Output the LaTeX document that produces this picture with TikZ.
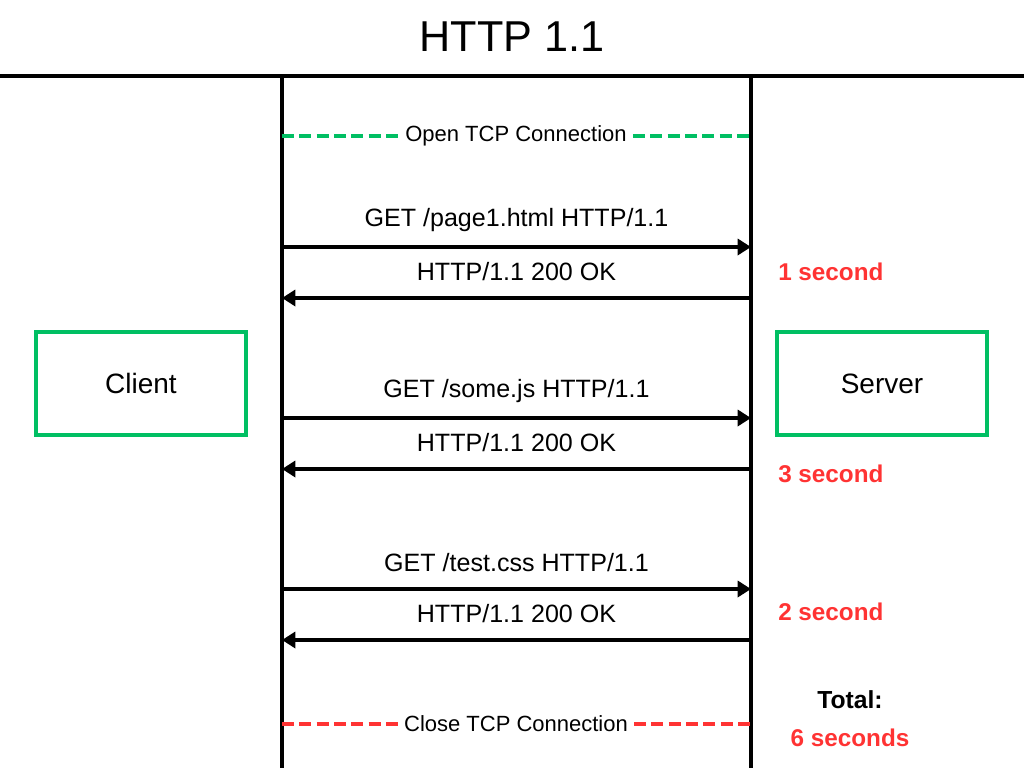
\documentclass[tikz,border=0pt]{standalone}
\usepackage{fontspec}
\setmainfont{Liberation Sans}
\usepackage{xcolor}
\usetikzlibrary{positioning,arrows.meta}
\definecolor{peergreen}{RGB}{0,191,99}
\definecolor{timered}{RGB}{255,51,51}

\begin{document}
\begin{tikzpicture}[x=0.75pt,y=-0.75pt,
  lifeline/.style={line width=2.5pt},
  msg/.style={line width=2.5pt,-{Triangle[length=10pt,width=12pt]}},
  msgtext/.style={font=\fontsize{18.8}{22}\selectfont},
  tcpline/.style={line width=2.6pt,dash pattern=on 9pt off 4pt},
  tcptext/.style={font=\fontsize{16.5}{20}\selectfont,inner sep=4.5pt},
  peer/.style={draw=peergreen,line width=2.8pt,minimum width=157.5pt,minimum height=77pt,
    font=\fontsize{21}{25}\selectfont},
  timing/.style={text=timered,font=\bfseries\fontsize{18.2}{22}\selectfont}]
\useasboundingbox (0,0) rectangle (1024,768);
  \node[font=\fontsize{32.4}{38}\selectfont] (title) at (512,37) {HTTP 1.1};
  \coordinate (hl) at (0,76);
  \coordinate (hr) at (1024,76);
  \draw[lifeline] (hl) -- (hr);
  \coordinate (ctop) at (282,76);
  \coordinate (cbot) at (282,768);
  \coordinate (stop) at (751,76);
  \coordinate (sbot) at (751,768);
  \draw[lifeline] (ctop) -- (cbot);
  \draw[lifeline] (stop) -- (sbot);
  \node[peer] (client) at (141,383.5) {Client};
  \node[peer] (server) at (882,383.5) {Server};
  % tcp connection
  \coordinate (oc) at (282,136);
  \coordinate (os) at (751,136);
  \node[tcptext] (open) at (516,136) {Open TCP Connection};
  \draw[tcpline,peergreen] (oc) -- (open.west) (open.east) -- (os);
  \coordinate (xc) at (282,724);
  \coordinate (xs) at (751,724);
  \node[tcptext] (close) at (516,724) {Close TCP Connection};
  \draw[tcpline,timered] (xc) -- (close.west) (close.east) -- (xs);
  % requests and responses
  \foreach \i/\y/\page in {1/247/page1.html,2/418/some.js,3/589/test.css}{
    \coordinate (cq\i) at (282,\y);
    \coordinate (sq\i) at (751,\y);
    \coordinate (cr\i) at (282,\y+51);
    \coordinate (sr\i) at (751,\y+51);
    \draw[msg] (cq\i) -- node[msgtext,yshift=20pt] (req\i) {GET /\page\ HTTP/1.1} (sq\i);
    \draw[msg] (sr\i) -- node[msgtext,yshift=20pt] (res\i) {HTTP/1.1 200 OK} (cr\i);
  }
  \node[timing,anchor=west,inner sep=0pt] (t1) at (778,272) {1 second};
  \node[timing,anchor=west,inner sep=0pt] (t2) at (778,474) {3 second};
  \node[timing,anchor=west,inner sep=0pt] (t3) at (778,612) {2 second};
  \node[font=\bfseries\fontsize{18.5}{22}\selectfont] (total) at (850,700) {Total:};
  \node[timing] (sum) at (850,738) {6 seconds};
\end{tikzpicture}
\end{document}
